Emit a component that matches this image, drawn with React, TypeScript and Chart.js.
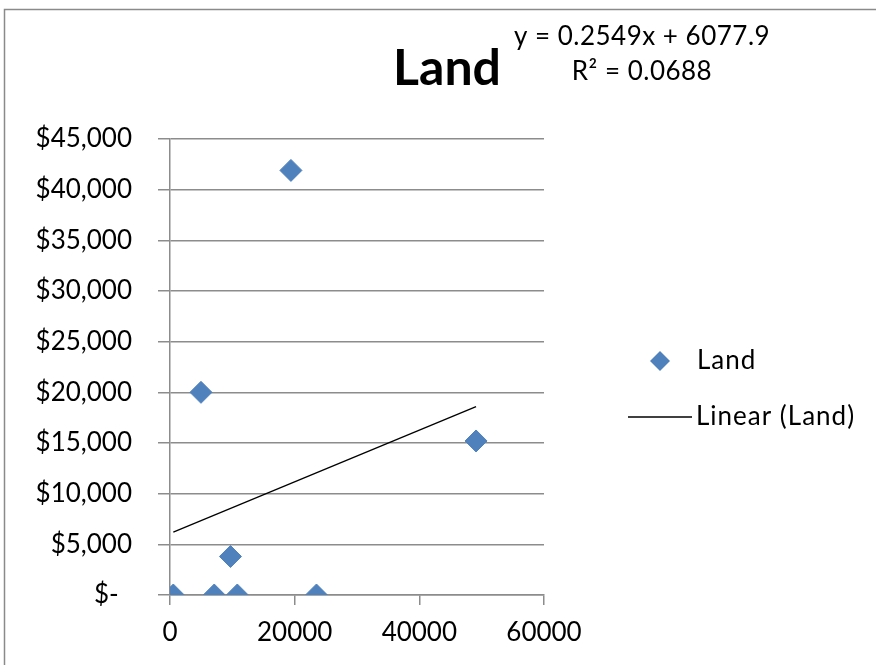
import React, { useEffect, useRef } from "react";
import { Chart, registerables } from "chart.js";

Chart.register(...registerables);

const TITLE = "Land";
const SERIES_NAME = "Land";
const TREND_NAME = "Linear (Land)";
const landX = [530, 7100, 10800, 9700, 23500, 4970, 19400, 49100];
const landY = [0, 0, 0, 3800, 0, 20000, 41900, 15200];
const trendCoef = [0.2549, 6077.9]; // slope, intercept (from the equation label)
const eqLines = ["y = 0.2549x + 6077.9", "R² = 0.0688"];
const X_MIN = 0, X_MAX = 60000, X_STEP = 20000;
const Y_MIN = 0, Y_MAX = 45000, Y_STEP = 5000;

const FONT = "Lato, 'Open Sans', sans-serif";
const BLUE = "#4F81BD";
const GRID = "#8c8c8c";

const decoPlugin = {
  id: "deco",
  afterDraw(chart: any) {
    const ctx = chart.ctx;
    ctx.save();
    // outer frame
    ctx.strokeStyle = "#8a8a8a";
    ctx.lineWidth = 1.5;
    ctx.strokeRect(4.5, 9.5, 1000, 1000);
    // title
    ctx.fillStyle = "#000";
    ctx.textAlign = "center";
    ctx.textBaseline = "alphabetic";
    ctx.font = `bold 50px ${FONT}`;
    ctx.fillText(TITLE, 447, 85);
    // equation
    ctx.font = `26px ${FONT}`;
    (ctx as any).letterSpacing = "0.5px";
    ctx.fillText(eqLines[0], 642, 45);
    ctx.fillText(eqLines[1], 642, 80);
    // legend
    (ctx as any).letterSpacing = "1px";
    ctx.textAlign = "left";
    ctx.fillStyle = BLUE;
    ctx.beginPath();
    const cx = 660, cy = 361, r = 10;
    ctx.moveTo(cx - r, cy);
    ctx.lineTo(cx, cy - r);
    ctx.lineTo(cx + r, cy);
    ctx.lineTo(cx, cy + r);
    ctx.closePath();
    ctx.fill();
    ctx.fillStyle = "#000";
    ctx.fillText(SERIES_NAME, 697, 369);
    ctx.strokeStyle = "#000";
    ctx.lineWidth = 1.5;
    ctx.beginPath();
    ctx.moveTo(628, 417);
    ctx.lineTo(692, 417);
    ctx.stroke();
    ctx.fillText(TREND_NAME, 696, 425);
    (ctx as any).letterSpacing = "0px";
    ctx.restore();
  },
};

export default function App() {
  const ref = useRef<HTMLCanvasElement>(null);
  useEffect(() => {
    const pts = landX.map((x, i) => ({ x, y: landY[i] }));
    const x0 = Math.min(...landX);
    const x1 = Math.max(...landX);
    const trend = [x0, x1].map((x) => ({ x, y: trendCoef[0] * x + trendCoef[1] }));
    const chart = new Chart(ref.current as HTMLCanvasElement, {
      type: "scatter",
      data: {
        datasets: [
          {
            label: TREND_NAME,
            data: trend,
            showLine: true,
            borderColor: "#000",
            borderWidth: 1.3,
            pointRadius: 0,
            order: 2,
          } as any,
          {
            label: SERIES_NAME,
            data: pts,
            pointStyle: "rectRot",
            pointRadius: 11,
            backgroundColor: BLUE,
            borderColor: BLUE,
            borderWidth: 1,
            order: 1,
          } as any,
        ],
      },
      options: {
        animation: false,
        responsive: false,
        devicePixelRatio: 1,
        layout: { padding: { top: 139, left: 0, right: 332, bottom: 0 } },
        plugins: { legend: { display: false }, tooltip: { enabled: false } },
        scales: {
          x: {
            type: "linear",
            min: X_MIN,
            max: X_MAX,
            afterFit: (s: any) => { s.height = 70; },
            ticks: {
              stepSize: X_STEP,
              callback: (v: any) => String(v),
              font: { family: FONT, size: 26 },
              color: "#000",
              padding: 12,
              maxRotation: 0,
            },
            grid: { drawOnChartArea: false, drawTicks: true, tickLength: 10, color: GRID, lineWidth: 1.5 },
            border: { display: true, color: GRID, width: 1.5 },
          },
          y: {
            type: "linear",
            min: Y_MIN,
            max: Y_MAX,
            afterFit: (s: any) => { s.width = 170; },
            ticks: {
              stepSize: Y_STEP,
              callback: (v: any) => (v === 0 ? "$-  " : "$" + Number(v).toLocaleString("en-US")),
              font: { family: FONT, size: 26 },
              color: "#000",
              padding: 26,
            },
            grid: { drawTicks: true, tickLength: 12, color: GRID, lineWidth: 1.5 },
            border: { display: true, color: GRID, width: 1.5 },
          },
        },
      },
      plugins: [decoPlugin],
    });
    return () => chart.destroy();
  }, []);
  return (
    <div style={{ position: "absolute", left: 0, top: 0, width: 876, height: 665, background: "#fff" }}>
      <canvas ref={ref} width={876} height={665} />
    </div>
  );
}
